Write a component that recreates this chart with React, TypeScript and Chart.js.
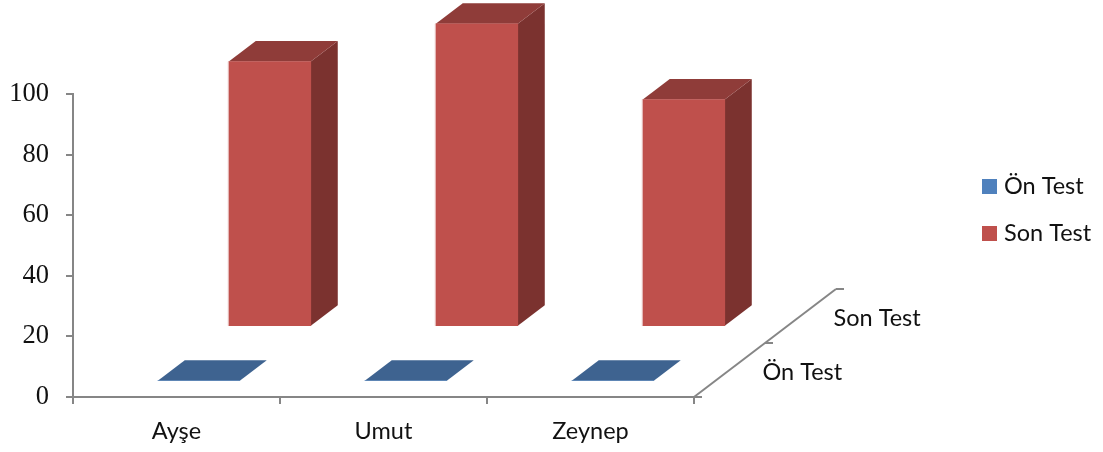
import React, { useEffect, useRef } from "react";
import { Chart, registerables } from "chart.js";

Chart.register(...registerables);

const categories = ["Ayşe", "Umut", "Zeynep"];
const onTest = [0, 0, 0];
const sonTest = [87.5, 100, 75];
const seriesNames = ["Ön Test", "Son Test"];
const frontColors = ["#4f81bd", "#bf504c"];
const topColors = ["#3e6390", "#8f3c39"];
const sideColors = ["#2f4b6e", "#7b322f"];

const AXIS_COLOR = "#868686";
const LABEL_FONT = '"Lato", sans-serif';
const LABEL_SIZE = 23.5;

// Receding floor axis: full travel in pixels and how each series sits along it.
const DEPTH_DX = 142;
const DEPTH_DY = 108;
const SERIES_START = 0.157;
const SERIES_STEP = 0.5;
const BAR_DEPTH = 0.19;
const FLOOR_NUDGE = 0.7;

const seriesOffset = (i: number) => {
  const f = i * SERIES_STEP + SERIES_START;
  return { x: DEPTH_DX * f, y: -DEPTH_DY * f + FLOOR_NUDGE };
};

const prismPlugin = {
  id: "prism",
  beforeDatasetsDraw(chart: any) {
    const { ctx, chartArea } = chart;
    const ox = chartArea.right;
    const oy = chartArea.bottom;
    ctx.save();
    ctx.strokeStyle = AXIS_COLOR;
    ctx.lineWidth = 2;
    ctx.beginPath();
    ctx.moveTo(ox, oy);
    ctx.lineTo(ox + DEPTH_DX, oy - DEPTH_DY);
    ctx.stroke();
    [0, 0.5, 1].forEach((f) => {
      const x = ox + DEPTH_DX * f;
      const y = oy - DEPTH_DY * f;
      ctx.beginPath();
      ctx.moveTo(x, y);
      ctx.lineTo(x + 8, y);
      ctx.stroke();
    });
    ctx.fillStyle = "#111";
    ctx.font = `${LABEL_SIZE}px ${LABEL_FONT}`;
    ctx.textAlign = "left";
    ctx.textBaseline = "middle";
    seriesNames.forEach((name, i) => {
      const f = (i + 0.5) * SERIES_STEP;
      ctx.fillText(name, ox + DEPTH_DX * f + 33, oy - DEPTH_DY * f + 2.5);
    });
    ctx.restore();
  },
  beforeDatasetDraw(chart: any, args: any) {
    const { ctx } = chart;
    const i = args.index;
    const off = seriesOffset(i);
    const dx = DEPTH_DX * BAR_DEPTH;
    const dy = DEPTH_DY * BAR_DEPTH;
    ctx.save();
    ctx.translate(off.x, off.y);
    args.meta.data.forEach((bar: any) => {
      const l = bar.x - bar.width / 2;
      const r = bar.x + bar.width / 2;
      ctx.fillStyle = sideColors[i];
      ctx.beginPath();
      ctx.moveTo(r, bar.y);
      ctx.lineTo(r + dx, bar.y - dy);
      ctx.lineTo(r + dx, bar.base - dy);
      ctx.lineTo(r, bar.base);
      ctx.closePath();
      ctx.fill();
      ctx.fillStyle = topColors[i];
      ctx.beginPath();
      ctx.moveTo(l, bar.y);
      ctx.lineTo(l + dx, bar.y - dy);
      ctx.lineTo(r + dx, bar.y - dy);
      ctx.lineTo(r, bar.y);
      ctx.closePath();
      ctx.fill();
    });
  },
  afterDatasetDraw(chart: any, args: any) {
    const { ctx } = chart;
    // Thin highlight down the left edge of each raised front face.
    args.meta.data.forEach((bar: any) => {
      if (bar.base - bar.y < 1) return;
      ctx.fillStyle = "#e6bdbb";
      ctx.fillRect(bar.x - bar.width / 2 - 1, bar.y, 1, bar.base - bar.y);
    });
    ctx.restore();
  },
  afterDraw(chart: any) {
    const { ctx } = chart;
    const rows = [186, 233];
    ctx.save();
    ctx.font = `${LABEL_SIZE}px ${LABEL_FONT}`;
    ctx.textAlign = "left";
    ctx.textBaseline = "middle";
    chart.data.datasets.forEach((ds: any, i: number) => {
      ctx.fillStyle = frontColors[i];
      ctx.fillRect(982, rows[i] - 7, 15, 15);
      ctx.fillStyle = "#111";
      ctx.fillText(ds.label, 1004, rows[i]);
    });
    ctx.restore();
  },
};

export default function App() {
  const canvasRef = useRef<HTMLCanvasElement>(null);

  useEffect(() => {
    const chart = new Chart(canvasRef.current as HTMLCanvasElement, {
      type: "bar",
      data: {
        labels: categories,
        datasets: [
          { label: seriesNames[0], data: onTest, backgroundColor: frontColors[0] },
          { label: seriesNames[1], data: sonTest, backgroundColor: frontColors[1] },
        ],
      },
      plugins: [prismPlugin],
      options: {
        responsive: false,
        animation: false,
        clip: false,
        layout: { padding: { top: 94, right: 409, bottom: 0, left: 0 } },
        datasets: { bar: { grouped: false, barThickness: 82, borderWidth: 0 } },
        plugins: { legend: { display: false }, tooltip: { enabled: false } },
        scales: {
          x: {
            afterFit: (s: any) => {
              s.height = 55;
            },
            grid: {
              offset: true,
              drawOnChartArea: false,
              color: AXIS_COLOR,
              lineWidth: 2,
              tickLength: 7,
            },
            border: { color: AXIS_COLOR, width: 2 },
            ticks: {
              color: "#111",
              padding: 13,
              maxRotation: 0,
              font: { family: LABEL_FONT, size: LABEL_SIZE },
            },
          },
          y: {
            min: 0,
            max: 100,
            afterFit: (s: any) => {
              s.width = 73;
            },
            grid: {
              drawOnChartArea: false,
              color: AXIS_COLOR,
              lineWidth: 2,
              tickLength: 7,
            },
            border: { color: AXIS_COLOR, width: 2 },
            ticks: {
              stepSize: 20,
              color: "#111",
              padding: 17,
              font: { family: '"Liberation Serif", serif', size: 26.5 },
            },
          },
        },
      } as any,
    });
    return () => chart.destroy();
  }, []);

  return (
    <div style={{ position: "absolute", left: 0, top: 0, width: 1103, height: 452 }}>
      <canvas ref={canvasRef} width={1103} height={452} style={{ display: "block" }} />
    </div>
  );
}
